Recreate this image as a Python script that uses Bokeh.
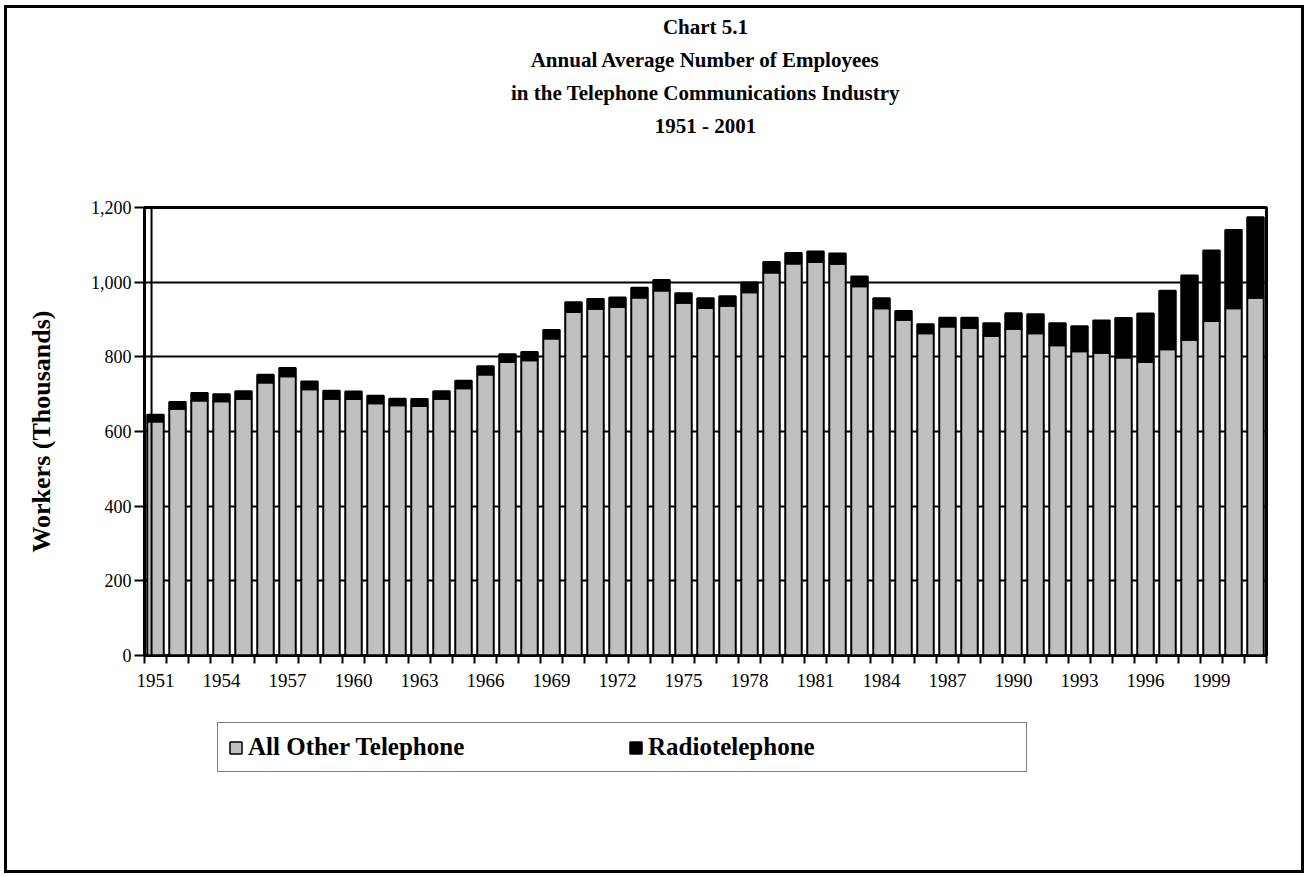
from bokeh.plotting import figure
from bokeh.layouts import column
from bokeh.models import (FixedTicker, NumeralTickFormatter, Legend, LegendItem,
                          ColumnDataSource, Title, Span)
from bokeh.embed import file_html
from bokeh.resources import INLINE

years = list(range(1951, 2002))
all_other = [627, 661, 683, 681, 688, 731, 748, 713, 688, 687, 676, 670, 668, 688, 716, 753,
             786, 791, 849, 920, 929, 934, 959, 978, 945, 931, 937, 973, 1026, 1050, 1054, 1049,
             989, 930, 899, 863, 881, 878, 856, 875, 863, 831, 815, 811, 798, 786, 820, 846,
             896, 930, 958]
radio = [18, 18, 20, 19, 20, 21, 22, 21, 21, 20, 20, 18, 19, 20, 20, 22,
         21, 22, 23, 26, 26, 25, 26, 28, 25, 26, 25, 26, 28, 28, 28, 28,
         26, 27, 24, 24, 24, 27, 34, 42, 51, 59, 67, 86, 106, 130, 157, 172,
         189, 210, 216]
label_years = list(range(1951, 2002, 3))
y_ticks = [0, 200, 400, 600, 800, 1000, 1200]
title_lines = ["Chart 5.1", "Annual Average Number of Employees",
               "in the Telephone Communications Industry", "1951 - 2001"]
series_names = ["All Other Telephone", "Radiotelephone"]
series_colors = ["#C0C0C0", "black"]

total = [a + b for a, b in zip(all_other, radio)]
src = ColumnDataSource(dict(year=years, other=all_other, radio=radio, total=total))

SERIF = "Liberation Serif"

p = figure(frame_width=1122, frame_height=448, output_backend="svg", toolbar_location=None,
           x_range=(1950.5, 2001.5), y_range=(0, 1200),
           min_border_left=137, min_border_right=35, min_border_top=199,
           min_border_bottom=60)
p.background_fill_color = "white"
p.border_fill_color = "white"
p.outline_line_color = "black"
p.outline_line_width = 3

# bars
p.vbar(x="year", width=0.75, bottom=0, top="other", source=src,
       fill_color=series_colors[0], line_color="black", line_width=2)
p.vbar(x="year", width=0.75, bottom="other", top="total", source=src,
       fill_color=series_colors[1], line_color="black", line_width=2)

# grid
p.xgrid.grid_line_color = None
p.ygrid.grid_line_color = "black"
p.ygrid.grid_line_width = 2
p.ygrid.ticker = FixedTicker(ticks=y_ticks)

# left wall inner line
p.add_layout(Span(location=1950.82, dimension="height", line_color="black", line_width=2))

# y axis
p.yaxis.ticker = FixedTicker(ticks=y_ticks)
p.yaxis.formatter = NumeralTickFormatter(format="0,0")
p.yaxis.axis_line_width = 3
p.yaxis.major_tick_out = 10
p.yaxis.major_tick_in = 0
p.yaxis.major_tick_line_width = 2
p.yaxis.minor_tick_line_color = None
p.yaxis.major_label_standoff = 3
p.yaxis.major_label_text_font = SERIF
p.yaxis.major_label_text_font_size = "18px"
p.yaxis.major_label_text_color = "black"
p.yaxis.axis_label = "Workers (Thousands)"
p.yaxis.axis_label_text_font = SERIF
p.yaxis.axis_label_text_font_style = "bold"
p.yaxis.axis_label_text_font_size = "26px"
p.yaxis.axis_label_text_color = "black"
p.yaxis.axis_label_standoff = 32

# x axis
boundaries = [y - 0.5 for y in years] + [years[-1] + 0.5]
p.xaxis.ticker = FixedTicker(ticks=label_years, minor_ticks=boundaries)
p.xaxis.axis_line_width = 2
p.xaxis.major_tick_line_color = None
p.xaxis.major_tick_out = 0
p.xaxis.major_tick_in = 0
p.xaxis.minor_tick_out = 8
p.xaxis.minor_tick_in = 0
p.xaxis.minor_tick_line_width = 2
p.xaxis.minor_tick_line_color = "black"
p.xaxis.major_label_standoff = 10
p.xaxis.major_label_text_font = SERIF
p.xaxis.major_label_text_font_size = "19px"
p.xaxis.major_label_text_color = "black"

# spacer between title block and plot, then title lines (nearest line first)
p.add_layout(Title(text=" ", text_font_size="10px", standoff=53), "above")
for line in reversed(title_lines):
    p.add_layout(Title(text=line, align="center", text_font=SERIF, text_font_style="bold",
                       text_font_size="21px", text_color="black", standoff=7), "above")

# legend panel (second figure, same width); its renderers are hidden, only the key shows
q = figure(width=1294, height=155, output_backend="svg", toolbar_location=None,
           x_range=(1950.5, 2001.5), y_range=(0, 1200), x_axis_type=None, y_axis_type=None,
           min_border=0)
q.outline_line_color = None
q.background_fill_color = "white"
q.border_fill_color = "white"
items = []
for name, col, top_field in zip(series_names, series_colors, ["other", "total"]):
    r = q.vbar(x="year", top=top_field, width=0.75, source=src,
               fill_color=col, line_color="black", line_width=1.5, visible=False)
    items.append(LegendItem(label=name, renderers=[r]))
legend = Legend(items=items, orientation="horizontal", location=(73, 98),
                label_text_font=SERIF, label_text_font_style="bold",
                label_text_font_size="25px", label_text_color="black",
                glyph_width=15, glyph_height=15, label_standoff=5, spacing=12,
                label_width=368, padding=10, margin=0,
                border_line_color="black", border_line_width=1.5,
                background_fill_alpha=1.0, inactive_fill_alpha=0.0)
q.add_layout(legend, "center")

layout = column(p, q, spacing=0,
                styles={"outline": "3px solid black", "outline-offset": "0px",
                        "margin-left": "7px", "margin-top": "8px"})

open("out.html", "w").write(file_html(layout, INLINE))
